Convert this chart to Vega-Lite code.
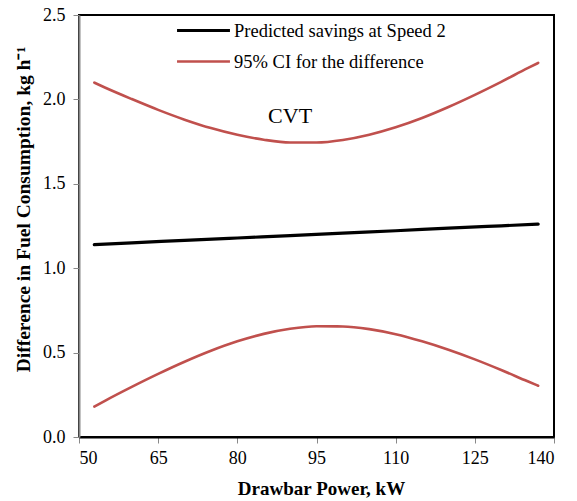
{
  "$schema": "https://vega.github.io/schema/vega-lite/v6.json",
  "width": 475,
  "height": 422,
  "autosize": "none",
  "padding": {"left": 79, "top": 15, "right": 23, "bottom": 64},
  "background": "white",
  "config": {
    "font": "Liberation Serif",
    "view": {"stroke": "black", "strokeWidth": 2},
    "axis": {
      "labelFont": "Liberation Serif",
      "titleFont": "Liberation Serif",
      "labelFontSize": 18,
      "titleFontSize": 18,
      "titleFontWeight": "bold",
      "labelColor": "black",
      "titleColor": "black",
      "tickColor": "#888888",
      "tickSize": 6,
      "grid": false
    }
  },
  "datasets": {
    "curves": [
      {"power": 52.9, "value": 1.140, "series": "Predicted savings at Speed 2", "part": "mid"},
      {"power": 60, "value": 1.150, "series": "Predicted savings at Speed 2", "part": "mid"},
      {"power": 70, "value": 1.165, "series": "Predicted savings at Speed 2", "part": "mid"},
      {"power": 80, "value": 1.179, "series": "Predicted savings at Speed 2", "part": "mid"},
      {"power": 90, "value": 1.193, "series": "Predicted savings at Speed 2", "part": "mid"},
      {"power": 100, "value": 1.208, "series": "Predicted savings at Speed 2", "part": "mid"},
      {"power": 110, "value": 1.222, "series": "Predicted savings at Speed 2", "part": "mid"},
      {"power": 120, "value": 1.237, "series": "Predicted savings at Speed 2", "part": "mid"},
      {"power": 130, "value": 1.251, "series": "Predicted savings at Speed 2", "part": "mid"},
      {"power": 137, "value": 1.261, "series": "Predicted savings at Speed 2", "part": "mid"},

      {"power": 52.9, "value": 2.099, "series": "95% CI for the difference", "part": "upper"},
      {"power": 55, "value": 2.069, "series": "95% CI for the difference", "part": "upper"},
      {"power": 60, "value": 2.002, "series": "95% CI for the difference", "part": "upper"},
      {"power": 65, "value": 1.938, "series": "95% CI for the difference", "part": "upper"},
      {"power": 70, "value": 1.880, "series": "95% CI for the difference", "part": "upper"},
      {"power": 75, "value": 1.830, "series": "95% CI for the difference", "part": "upper"},
      {"power": 80, "value": 1.790, "series": "95% CI for the difference", "part": "upper"},
      {"power": 85, "value": 1.761, "series": "95% CI for the difference", "part": "upper"},
      {"power": 90, "value": 1.745, "series": "95% CI for the difference", "part": "upper"},
      {"power": 95, "value": 1.745, "series": "95% CI for the difference", "part": "upper"},
      {"power": 100, "value": 1.760, "series": "95% CI for the difference", "part": "upper"},
      {"power": 105, "value": 1.791, "series": "95% CI for the difference", "part": "upper"},
      {"power": 110, "value": 1.835, "series": "95% CI for the difference", "part": "upper"},
      {"power": 115, "value": 1.890, "series": "95% CI for the difference", "part": "upper"},
      {"power": 120, "value": 1.955, "series": "95% CI for the difference", "part": "upper"},
      {"power": 125, "value": 2.027, "series": "95% CI for the difference", "part": "upper"},
      {"power": 130, "value": 2.104, "series": "95% CI for the difference", "part": "upper"},
      {"power": 135, "value": 2.185, "series": "95% CI for the difference", "part": "upper"},
      {"power": 137, "value": 2.216, "series": "95% CI for the difference", "part": "upper"},

      {"power": 52.9, "value": 0.180, "series": "95% CI for the difference", "part": "lower"},
      {"power": 55, "value": 0.216, "series": "95% CI for the difference", "part": "lower"},
      {"power": 60, "value": 0.297, "series": "95% CI for the difference", "part": "lower"},
      {"power": 65, "value": 0.374, "series": "95% CI for the difference", "part": "lower"},
      {"power": 70, "value": 0.446, "series": "95% CI for the difference", "part": "lower"},
      {"power": 75, "value": 0.511, "series": "95% CI for the difference", "part": "lower"},
      {"power": 80, "value": 0.567, "series": "95% CI for the difference", "part": "lower"},
      {"power": 85, "value": 0.611, "series": "95% CI for the difference", "part": "lower"},
      {"power": 90, "value": 0.641, "series": "95% CI for the difference", "part": "lower"},
      {"power": 95, "value": 0.656, "series": "95% CI for the difference", "part": "lower"},
      {"power": 100, "value": 0.655, "series": "95% CI for the difference", "part": "lower"},
      {"power": 105, "value": 0.639, "series": "95% CI for the difference", "part": "lower"},
      {"power": 110, "value": 0.609, "series": "95% CI for the difference", "part": "lower"},
      {"power": 115, "value": 0.567, "series": "95% CI for the difference", "part": "lower"},
      {"power": 120, "value": 0.517, "series": "95% CI for the difference", "part": "lower"},
      {"power": 125, "value": 0.460, "series": "95% CI for the difference", "part": "lower"},
      {"power": 130, "value": 0.397, "series": "95% CI for the difference", "part": "lower"},
      {"power": 135, "value": 0.330, "series": "95% CI for the difference", "part": "lower"},
      {"power": 137, "value": 0.304, "series": "95% CI for the difference", "part": "lower"}
    ],
    "labels": [
      {"power": 90, "value": 1.86, "text": "CVT"}
    ]
  },
  "layer": [
    {
      "data": {"name": "curves"},
      "mark": {"type": "line", "interpolate": "monotone", "strokeCap": "round"},
      "encoding": {
        "x": {
          "field": "power", "type": "quantitative",
          "scale": {"domain": [50, 140], "nice": false, "zero": false},
          "axis": {
            "title": "Drawbar Power, kW",
            "titleFontSize": 19,
            "titleX": 242,
            "values": [50, 65, 80, 95, 110, 125, 140],
            "domainColor": "black",
            "domainWidth": 2,
            "labelPadding": 6,
            "titlePadding": 12
          }
        },
        "y": {
          "field": "value", "type": "quantitative",
          "scale": {"domain": [0, 2.5], "nice": false},
          "axis": {
            "title": "Difference in Fuel Consumption, kg h⁻¹",
            "titleFontSize": 19.5,
            "titleY": 194,
            "values": [0, 0.5, 1, 1.5, 2, 2.5],
            "format": ".1f",
            "domainColor": "#888888",
            "domainWidth": 2,
            "labelPadding": 8,
            "titlePadding": 9
          }
        },
        "detail": {"field": "part"},
        "color": {
          "field": "series", "type": "nominal",
          "scale": {
            "domain": ["Predicted savings at Speed 2", "95% CI for the difference"],
            "range": ["black", "#C0504D"]
          },
          "legend": {
            "title": null,
            "orient": "none",
            "legendX": 96,
            "legendY": 0,
            "symbolType": "stroke",
            "symbolSize": 2800,
            "symbolStrokeWidth": 3,
            "clipHeight": 31,
            "labelFont": "Liberation Serif",
            "labelFontSize": 18.5,
            "labelColor": "black",
            "labelOffset": 2,
            "labelLimit": 400,
            "rowPadding": 0,
            "padding": 0
          }
        },
        "strokeWidth": {
          "field": "series", "type": "nominal",
          "scale": {
            "domain": ["Predicted savings at Speed 2", "95% CI for the difference"],
            "range": [3.2, 2.6]
          },
          "legend": null
        }
      }
    },
    {
      "data": {"name": "labels"},
      "mark": {"type": "text", "font": "Liberation Serif", "fontSize": 22, "align": "center", "baseline": "alphabetic", "color": "black"},
      "encoding": {
        "x": {"field": "power", "type": "quantitative"},
        "y": {"field": "value", "type": "quantitative"},
        "text": {"field": "text"}
      }
    }
  ]
}
